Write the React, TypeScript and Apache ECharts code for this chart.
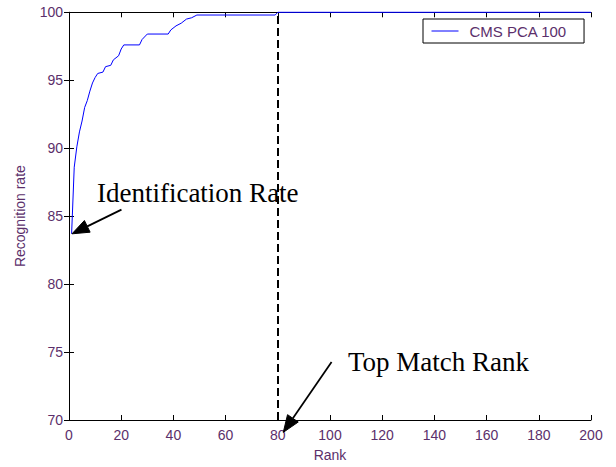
import React, { useEffect, useRef } from "react";
import * as echarts from "echarts";

const ranks = [1, 2, 3, 4, 5, 6, 7, 8, 9, 10, 11, 13, 14, 16, 17, 19, 20, 21, 27, 28, 30, 38, 39, 41, 43, 45, 47, 49, 79, 80, 200];
const rates = [83.7, 88.6, 90.1, 91.2, 92.0, 93.0, 93.5, 94.2, 94.8, 95.2, 95.5, 95.6, 96.0, 96.1, 96.5, 96.8, 97.3, 97.6, 97.6, 98.0, 98.4, 98.4, 98.7, 99.0, 99.2, 99.5, 99.6, 99.8, 99.8, 100, 100];
const seriesName = "CMS PCA 100";
const topMatchRank = 80;
const xTicks = { min: 0, max: 200, step: 20 };
const yTicks = { min: 70, max: 100, step: 5 };

const annotationTexts = ["Identification Rate", "Top Match Rank"];
const annotationTextAt = [[10.7, 86.69], [106.9, 74.28]];
const arrowFrom = [[20.1, 85.48], [100.6, 74.27]];
const arrowTo = [[1.15, 83.7], [82.1, 69.09]];

const labelColor = "#5b2f6b";

export default function App() {
  const ref = useRef<HTMLDivElement>(null);
  useEffect(() => {
    if (!ref.current) return;
    const chart = echarts.init(ref.current, undefined, { renderer: "svg" });
    const axisCommon = {
      type: "value" as const,
      axisLine: { show: true, lineStyle: { color: "#000", width: 1 } },
      axisTick: { show: true, inside: true, length: 5, lineStyle: { color: "#000" } },
      splitLine: { show: false },
    };
    const labelStyle = { color: labelColor, fontSize: 14, fontFamily: "Liberation Sans" };
    chart.setOption({
      animation: false,
      backgroundColor: "#fff",
      grid: { left: 69, right: 25, top: 12.3, bottom: 46, containLabel: false },
      legend: {
        show: true,
        left: 423,
        top: 19,
        orient: "horizontal",
        data: [seriesName],
        itemWidth: 27,
        itemHeight: 14,
        padding: [4, 17, 4, 8],
        borderColor: "#000",
        borderWidth: 1,
        backgroundColor: "#fff",
        textStyle: { color: labelColor, fontSize: 15, fontFamily: "Liberation Sans", padding: [0, 0, 0, 6], lineHeight: 16 },
        lineStyle: { width: 1, color: "#0000ff" },
        itemStyle: { color: "transparent", borderWidth: 0, opacity: 0 },
      },
      xAxis: [
        {
          ...axisCommon,
          position: "bottom",
          min: xTicks.min,
          max: xTicks.max,
          interval: xTicks.step,
          axisLabel: { ...labelStyle, margin: 8 },
          name: "Rank",
          nameLocation: "middle",
          nameGap: 28,
          nameTextStyle: labelStyle,
        },
        {
          ...axisCommon,
          position: "top",
          min: xTicks.min,
          max: xTicks.max,
          interval: xTicks.step,
          axisLabel: { show: false },
        },
      ],
      yAxis: [
        {
          ...axisCommon,
          position: "left",
          min: yTicks.min,
          max: yTicks.max,
          interval: yTicks.step,
          axisLabel: { ...labelStyle, margin: 6 },
          name: "Recognition rate",
          nameLocation: "middle",
          nameGap: 42,
          nameTextStyle: labelStyle,
        },
        {
          ...axisCommon,
          position: "right",
          min: yTicks.min,
          max: yTicks.max,
          interval: yTicks.step,
          axisLabel: { show: false },
        },
      ],
      series: [
        {
          name: seriesName,
          type: "line",
          xAxisIndex: 0,
          yAxisIndex: 0,
          data: ranks.map((r, i) => [r, rates[i]]),
          symbol: "none",
          clip: false,
          z: 5,
          itemStyle: { color: "#0000ff" },
          lineStyle: { color: "#0000ff", width: 1 },
          markLine: {
            silent: true,
            symbol: "none",
            label: { show: false },
            lineStyle: { color: "#000", width: 2, type: [8, 4] },
            data: [{ xAxis: topMatchRank }],
          },
        },
      ],
    });

    const px = (v: number[]) => chart.convertToPixel({ seriesIndex: 0 }, v) as number[];
    const graphics: any[] = [];
    const headLen = 17;
    const headHalf = 6.5;
    annotationTexts.forEach((t, i) => {
      const tp = px(annotationTextAt[i]);
      graphics.push({
        type: "text",
        x: tp[0],
        y: tp[1],
        z: 100,
        style: {
          text: t,
          fontFamily: "Liberation Serif",
          fontSize: 27,
          fill: "#000",
          align: "left",
          verticalAlign: "middle",
        },
      });
      const a = px(arrowFrom[i]);
      const b = px(arrowTo[i]);
      const dx = b[0] - a[0];
      const dy = b[1] - a[1];
      const len = Math.hypot(dx, dy);
      const ux = dx / len;
      const uy = dy / len;
      const bx = b[0] - ux * headLen;
      const by = b[1] - uy * headLen;
      graphics.push({
        type: "line",
        z: 100,
        shape: { x1: a[0], y1: a[1], x2: bx, y2: by },
        style: { stroke: "#000", lineWidth: 1.8 },
      });
      graphics.push({
        type: "polygon",
        z: 100,
        shape: {
          points: [
            [b[0], b[1]],
            [bx - uy * headHalf, by + ux * headHalf],
            [bx + uy * headHalf, by - ux * headHalf],
          ],
        },
        style: { fill: "#000", stroke: "#000", lineWidth: 1 },
      });
    });
    chart.setOption({ graphic: graphics });

    return () => chart.dispose();
  }, []);
  return <div ref={ref} style={{ position: "absolute", left: 0, top: 0, width: 616, height: 467 }} />;
}
